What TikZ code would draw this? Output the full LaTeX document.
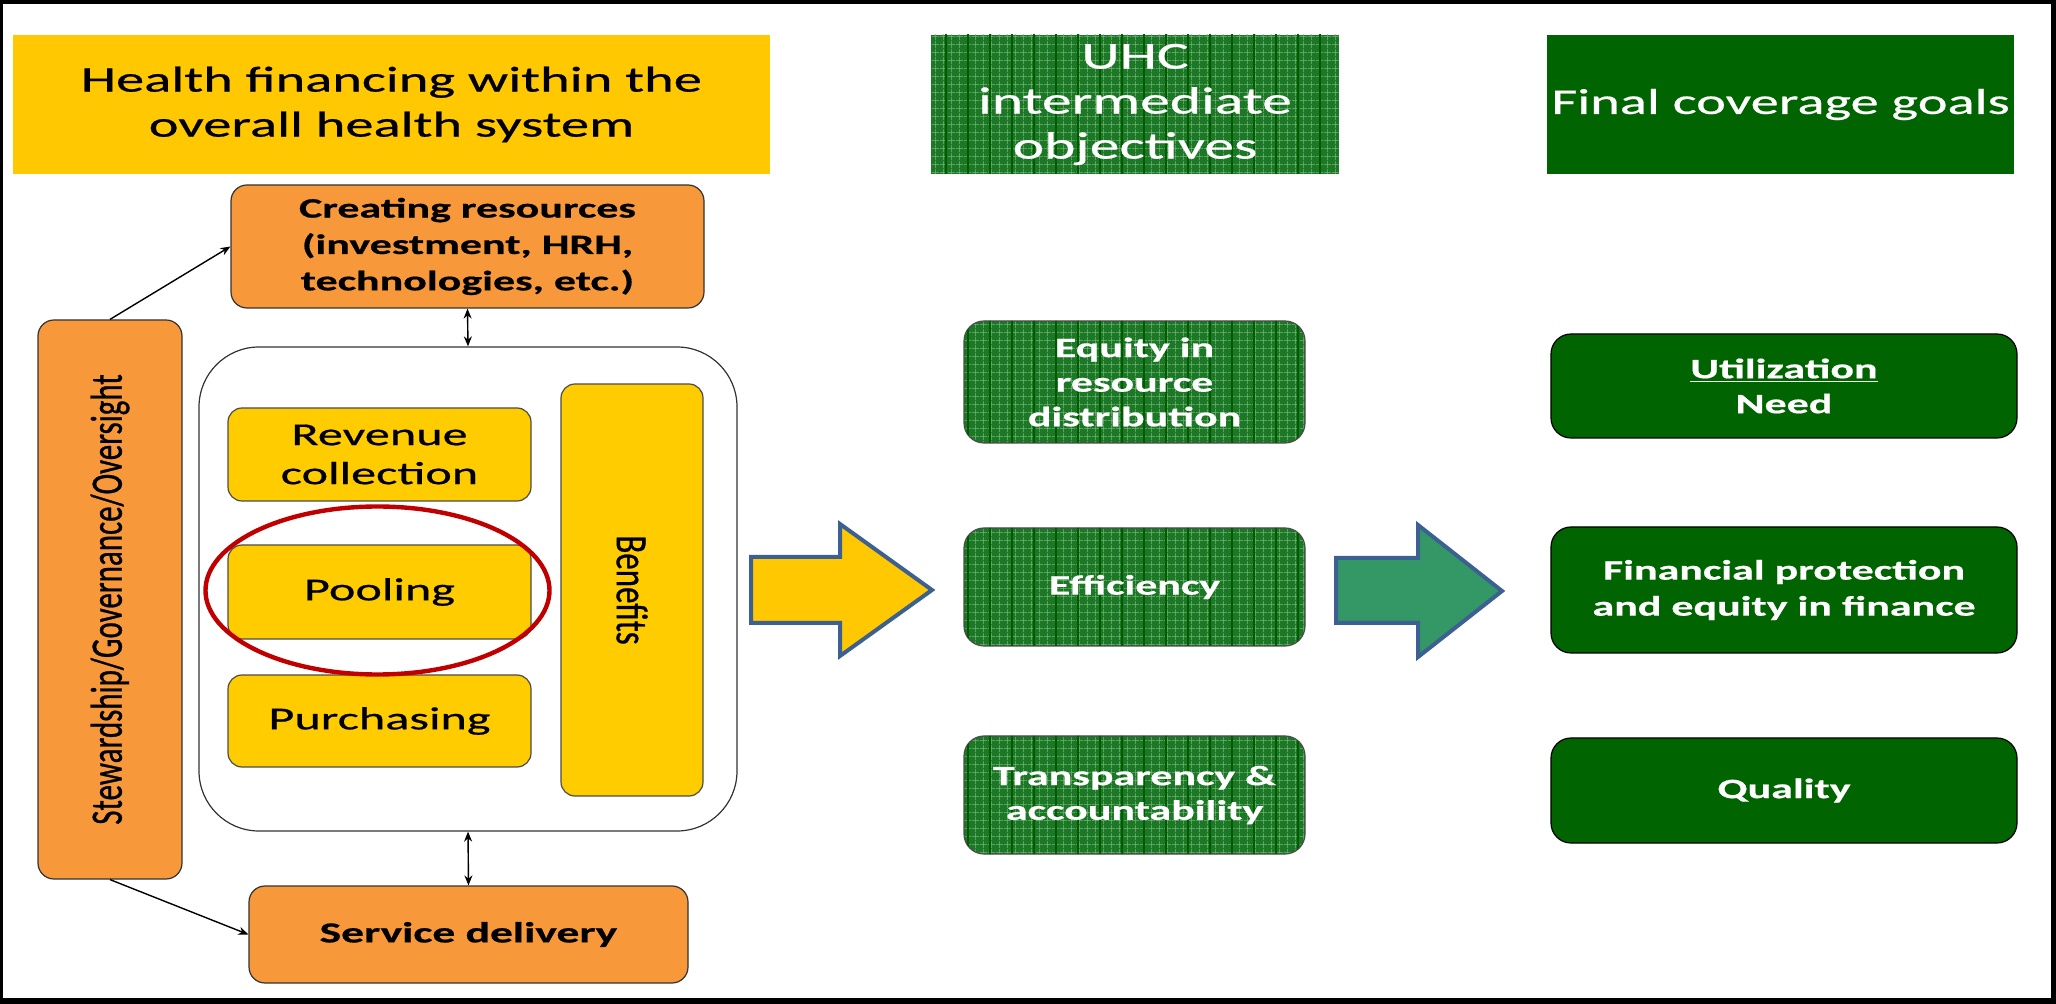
\documentclass[tikz,border=0pt]{standalone}
\usepackage{fontspec}
\usepackage{graphicx}
\setmainfont{Carlito}
\newfontfamily\wf[FakeStretch=1.57,FakeBold=0.6]{Carlito}
\newfontfamily\rf[FakeBold=0.8]{Carlito}
\usetikzlibrary{arrows.meta,patterns.meta,shapes.geometric}
\definecolor{ttlY}{RGB}{255,200,0}
\definecolor{boxY}{RGB}{255,204,0}
\definecolor{orng}{RGB}{247,153,58}
\definecolor{dkG}{RGB}{0,100,0}
\definecolor{pgA}{RGB}{28,120,38}
\definecolor{pgL}{RGB}{120,185,120}
\definecolor{pgD}{RGB}{0,92,0}
\definecolor{arrG}{RGB}{51,152,102}
\definecolor{arrB}{RGB}{60,96,145}
\definecolor{ellR}{RGB}{192,0,0}
\begin{document}
\begin{tikzpicture}[x=0.5pt,y=-0.5pt,
  every node/.style={inner sep=0pt, align=center},
  ttlbox/.style={fill=ttlY, font=\wf\fontsize{18pt}{22.5pt}\selectfont},
  patbox/.style={preaction={fill=pgA},
    pattern={Hatch[angle=0,distance=4pt,line width=0.35pt]}, pattern color=pgL,
    postaction={pattern={Lines[angle=90,distance=11pt,line width=1.1pt]}, pattern color=pgD},
    text=white},
  patround/.style={patbox, rounded corners=10pt, draw=black!70, line width=0.6pt,
    font=\wf\bfseries\fontsize{14pt}{17.3pt}\selectfont},
  dkbox/.style={fill=dkG, text=white},
  dkround/.style={dkbox, rounded corners=10pt, draw=black, line width=0.6pt,
    font=\wf\bfseries\fontsize{14pt}{18pt}\selectfont},
  orbox/.style={fill=orng, draw=black!80, line width=0.6pt, rounded corners=8pt},
  ybox/.style={fill=boxY, draw=black!70, line width=0.6pt, rounded corners=7pt,
    font=\wf\fontsize{16pt}{19.5pt}\selectfont},
  conn/.style={draw=black, line width=0.7pt, -{Stealth[length=5pt,width=4pt]}},
  dconn/.style={draw=black, line width=0.7pt, {Stealth[length=5pt,width=4pt]}-{Stealth[length=5pt,width=4pt]}},
  blockarrow/.style={draw=arrB, line width=2pt}
]
\fill[black] (0,0) rectangle (2056,1004);
\fill[white] (3,4) rectangle (2051,998);
\useasboundingbox (0,0) rectangle (2056,1004);

% headers
\node[ttlbox, minimum width=378.5pt, minimum height=69.5pt] (title) at (391.5,104.5)
  {Health financing within the\\overall health system};
\node[patbox, minimum width=204pt, minimum height=69.5pt,
  font=\wf\fontsize{19pt}{22.5pt}\selectfont] (uhc) at (1135,104.5)
  {UHC\\intermediate\\objectives};
\node[dkbox, minimum width=233.5pt, minimum height=69.5pt,
  font=\wf\fontsize{18pt}{22.5pt}\selectfont] (final) at (1780.5,104.5)
  {Final coverage goals};

% left part
\node[draw=black!80, line width=0.6pt, rounded corners=30pt, fill=white,
  minimum width=269pt, minimum height=242pt] (big) at (468,589) {};
\node[orbox, minimum width=236.5pt, minimum height=61.5pt,
  font=\wf\bfseries\fontsize{14pt}{18.2pt}\selectfont] (creating) at (467.5,246.5)
  {Creating resources\\(investment, HRH,\\technologies, etc.)};
\node[orbox, minimum width=72pt, minimum height=279.5pt] (stew) at (110,599.5) {};
\node[rotate=90, font=\rf\fontsize{15.5pt}{18pt}\selectfont] (stewtext) at (stew.center)
  {\scalebox{1}[1.45]{Stewardship/Governance/Oversight}};
\node[orbox, minimum width=219.5pt, minimum height=48.5pt,
  font=\wf\bfseries\fontsize{14.5pt}{17pt}\selectfont] (service) at (468.5,934.5)
  {Service delivery};

\node[ybox, minimum width=151.5pt, minimum height=46.5pt] (revenue) at (379.5,454.5)
  {Revenue\\collection};
\node[ybox, minimum width=151.5pt, minimum height=47pt] (pooling) at (379.5,592)
  {Pooling};
\node[ybox, minimum width=151.5pt, minimum height=46pt] (purchasing) at (379.5,721)
  {Purchasing};
\node[ybox, minimum width=71pt, minimum height=206pt] (benefits) at (632,590) {};
\node[rotate=-90, font=\rf\fontsize{16.5pt}{19pt}\selectfont] (benefitstext) at (benefits.center)
  {\scalebox{1}[1.35]{Benefits}};
\node[ellipse, draw=ellR, line width=2.2pt, minimum width=172pt, minimum height=84pt]
  (ring) at (377.5,590.5) {};

% connectors
\draw[conn] (stew.north) -- (creating.west);
\draw[conn] (stew.south) -- (service.west);
\draw[dconn] (creating.south) -- (big.north);
\draw[dconn] (big.south) -- (service.north);

% block arrows
\draw[blockarrow, fill=ttlY] (751,557) -- (840,557) -- (840,524) -- (932,590)
  -- (840,656) -- (840,623) -- (751,623) -- cycle;
\draw[blockarrow, fill=arrG] (1336,558) -- (1418,558) -- (1418,525) -- (1502,591)
  -- (1418,657) -- (1418,623) -- (1336,623) -- cycle;

% intermediate objectives
\node[patround, minimum width=170.5pt, minimum height=61pt] (equity) at (1134.5,382)
  {Equity in\\resource\\distribution};
\node[patround, minimum width=170.5pt, minimum height=59pt] (efficiency) at (1134.5,587)
  {Efficiency};
\node[patround, minimum width=170.5pt, minimum height=59pt] (transp) at (1134.5,795)
  {Transparency \&\\accountability};

% final goals
\node[dkround, minimum width=233pt, minimum height=52pt, font=\wf\bfseries\fontsize{14pt}{17.5pt}\selectfont]
  (util) at (1784,386) {\underline{Utilization}\\Need};
\node[dkround, minimum width=233pt, minimum height=63pt] (finprot) at (1784,590)
  {Financial protection\\and equity in finance};
\node[dkround, minimum width=233pt, minimum height=52.5pt] (quality) at (1784,790.5)
  {Quality};
\end{tikzpicture}
\end{document}
